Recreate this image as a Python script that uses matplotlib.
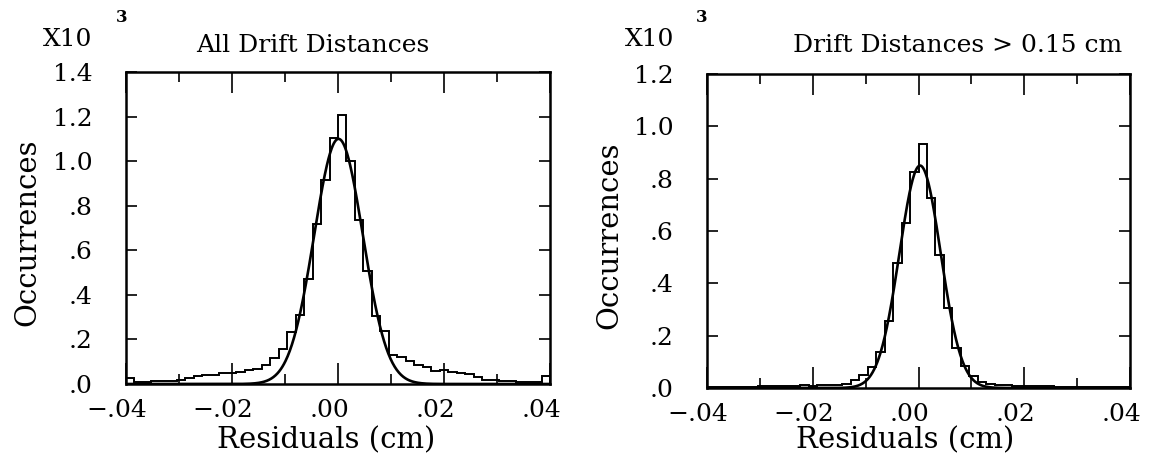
import numpy as np
import matplotlib
matplotlib.use("Agg")
import matplotlib.pyplot as plt
from matplotlib.transforms import ScaledTranslation

plt.rcParams['font.family'] = ['DejaVu Serif']

# ---------------- data ----------------
x_min, x_max, n_bins = -0.04, 0.04, 50

# occurrences (x10^3) per residual bin, all drift distances
left_counts = [0.025, 0.010, 0.010, 0.012, 0.012, 0.015, 0.020, 0.028, 0.035, 0.040,
               0.042, 0.048, 0.050, 0.055, 0.062, 0.068, 0.085, 0.115, 0.156, 0.233,
               0.308, 0.473, 0.720, 0.916, 1.102, 1.207, 1.001, 0.736, 0.506, 0.303,
               0.236, 0.130, 0.120, 0.105, 0.085, 0.075, 0.060, 0.062, 0.055, 0.050,
               0.045, 0.030, 0.020, 0.018, 0.015, 0.012, 0.010, 0.010, 0.010, 0.035]

# occurrences (x10^3) per residual bin, drift distances > 0.15 cm
right_counts = [0.004, 0.003, 0.004, 0.004, 0.005, 0.005, 0.006, 0.006, 0.007, 0.007,
                0.008, 0.010, 0.009, 0.012, 0.010, 0.012, 0.014, 0.029, 0.050, 0.081,
                0.139, 0.257, 0.476, 0.629, 0.827, 0.931, 0.725, 0.508, 0.305, 0.152,
                0.085, 0.046, 0.024, 0.015, 0.012, 0.010, 0.008, 0.008, 0.007, 0.006,
                0.006, 0.005, 0.004, 0.004, 0.004, 0.003, 0.003, 0.003, 0.003, 0.003]

# gaussian fit parameters (amplitude x10^3, mean cm, sigma cm)
left_fit = (1.10, 0.0001, 0.0046)
right_fit = (0.85, 0.0003, 0.0039)

x_ticks = [-0.04, -0.02, 0.0, 0.02, 0.04]
x_ticklabels = ["\u2212.04", "\u2212.02", ".00", ".02", ".04"]
left_yticks = [0.0, 0.2, 0.4, 0.6, 0.8, 1.0, 1.2, 1.4]
left_yticklabels = [".0", ".2", ".4", ".6", ".8", "1.0", "1.2", "1.4"]
right_yticks = [0.0, 0.2, 0.4, 0.6, 0.8, 1.0, 1.2]
right_yticklabels = [".0", ".2", ".4", ".6", ".8", "1.0", "1.2"]

left_title = "All Drift Distances"
right_title = "Drift Distances > 0.15 cm"
xlabel = "Residuals (cm)"
ylabel = "Occurrences"

# ---------------- figure ----------------
W, H = 1152, 467
fig = plt.figure(figsize=(W / 100, H / 100), dpi=100)

ax1 = fig.add_axes([126 / W, 1 - 384 / H, 424 / W, 312 / H])
ax2 = fig.add_axes([707 / W, 1 - 388 / H, 423 / W, 314 / H])

edges = np.linspace(x_min, x_max, n_bins + 1)
xfine = np.linspace(x_min, x_max, 801)

FS_TICK = 18
FS_TITLE = 18
FS_LABEL = 21

def style(ax, counts, fit, yticks, yticklabels, ytop):
    ax.stairs(counts, edges, baseline=0, fill=False, color='black', lw=1.4)
    a, m, s = fit
    ax.plot(xfine, a * np.exp(-0.5 * ((xfine - m) / s) ** 2), color='black', lw=1.9)
    ax.set_xlim(x_min, x_max)
    ax.set_ylim(0, ytop)
    ax.set_xticks(x_ticks)
    ax.set_xticklabels(x_ticklabels, fontsize=FS_TICK)
    ax.set_xticks(np.arange(-0.03, 0.031, 0.02), minor=True)
    ax.set_yticks(yticks)
    ax.set_yticklabels(yticklabels, fontsize=FS_TICK)
    ax.tick_params(axis='x', which='major', direction='in', length=15, width=1.2,
                   top=True, bottom=True, pad=11)
    ax.tick_params(axis='x', which='minor', direction='in', length=7, width=1.2,
                   top=True, bottom=True)
    ax.tick_params(axis='y', which='major', direction='in', length=8, width=1.2,
                   left=True, right=True, pad=24)
    for sp in ax.spines.values():
        sp.set_linewidth(1.8)
    off = ScaledTranslation(-9 / 100, 0, fig.dpi_scale_trans)
    for lab in ax.get_xticklabels():
        lab.set_transform(lab.get_transform() + off)

style(ax1, left_counts, left_fit, left_yticks, left_yticklabels, 1.4)
style(ax2, right_counts, right_fit, right_yticks, right_yticklabels, 1.2)

def fx(px):
    return px / W

def fy(py):
    return 1 - py / H

# titles and multiplier labels
fig.text(fx(313), fy(45), left_title, fontsize=FS_TITLE, ha='center', va='center')
fig.text(fx(958), fy(45), right_title, fontsize=FS_TITLE, ha='center', va='center')
for xx, x3 in [(68, 122), (650, 702)]:
    fig.text(fx(xx), fy(40), "X10", fontsize=FS_TITLE, ha='center', va='center')
    fig.text(fx(x3), fy(17), "3", fontsize=12, ha='center', va='center', fontweight='bold')

# axis labels
fig.text(fx(326), fy(440), xlabel, fontsize=FS_LABEL, ha='center', va='center')
fig.text(fx(905), fy(440), xlabel, fontsize=FS_LABEL, ha='center', va='center')
fig.text(fx(27), fy(232), ylabel, fontsize=FS_LABEL, ha='center', va='center', rotation=90)
fig.text(fx(609), fy(235), ylabel, fontsize=FS_LABEL, ha='center', va='center', rotation=90)

fig.savefig("out.png", dpi=100)
